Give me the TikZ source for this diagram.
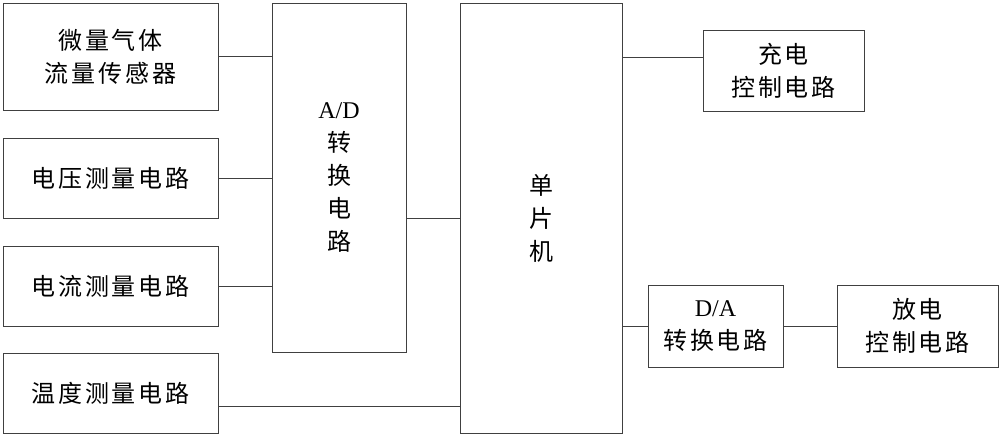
\documentclass[tikz,border=0pt]{standalone}
\usepackage{fontspec}
\setmainfont{Liberation Serif}
\newfontfamily\cjk[LetterSpace=12]{Noto Sans CJK SC}
\begin{document}
\begin{tikzpicture}[x=1pt,y=-1pt,
  box/.style={draw=black!75, line width=0.8pt, rectangle, inner sep=0pt, align=center,
              font=\cjk\fontsize{24}{33}\selectfont},
  link/.style={draw=black!75, line width=0.8pt}]
\useasboundingbox (0,0) rectangle (1000,436);
\node[box, minimum width=215pt, minimum height=107pt] (s1) at (110.5,56.5) {微量气体\\流量传感器};
\node[box, minimum width=215pt, minimum height=80pt] (s2) at (110.5,178) {电压测量电路};
\node[box, minimum width=215pt, minimum height=80pt] (s3) at (110.5,286) {电流测量电路};
\node[box, minimum width=215pt, minimum height=80pt] (s4) at (110.5,393) {温度测量电路};
\node[box, minimum width=134pt, minimum height=349pt] (ad) at (339,177.5) {{\rmfamily A/D}\\转\\换\\电\\路};
\node[box, minimum width=162pt, minimum height=430pt] (mcu) at (541,218) {单\\片\\机};
\node[box, minimum width=161pt, minimum height=81pt] (chg) at (783.5,70.5) {充电\\控制电路};
\node[box, minimum width=135pt, minimum height=82pt] (da) at (715.5,326) {{\rmfamily D/A}\\转换电路};
\node[box, minimum width=161pt, minimum height=82pt] (dis) at (917.5,326) {放电\\控制电路};
\draw[link] (s1.east) -- (s1.east -| ad.west);
\draw[link] (s2.east) -- (s2.east -| ad.west);
\draw[link] (s3.east) -- (s3.east -| ad.west);
\draw[link] ([yshift=-13pt]s4.east) -- ([yshift=-13pt]s4.east -| mcu.west);
\draw[link] (mcu.west) -- (mcu.west -| ad.east);
\draw[link] ([yshift=13.5pt]chg.west) -- ([yshift=13.5pt]chg.west -| mcu.east);
\draw[link] (da.west) -- (da.west -| mcu.east);
\draw[link] (da.east) -- (dis.west);
\end{tikzpicture}
\end{document}
